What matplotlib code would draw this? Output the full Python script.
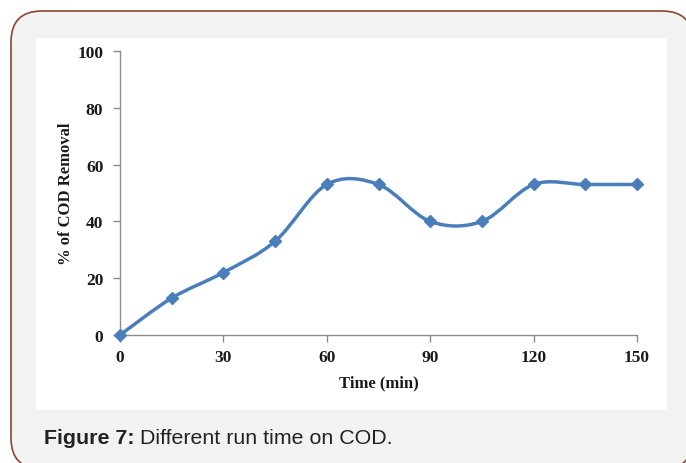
import matplotlib
matplotlib.use("Agg")
import numpy as np
import matplotlib.pyplot as plt
from matplotlib.path import Path
from matplotlib.patches import PathPatch, FancyBboxPatch, Rectangle

# Data
time_min = [0, 15, 30, 45, 60, 75, 90, 105, 120, 135, 150]
cod_removal = [0, 13, 22, 33, 53, 53, 40, 40, 53, 53, 53]
x_ticks = [0, 30, 60, 90, 120, 150]
y_ticks = [0, 20, 40, 60, 80, 100]

LINE = '#4a7ebb'
SERIF = 'Liberation Serif'


def smooth_path(xs, ys):
    # Excel-style smoothed line: cubic Bezier segments through each point
    pts = np.column_stack([xs, ys]).astype(float)
    n = len(pts)
    verts = [pts[0]]
    codes = [Path.MOVETO]
    for i in range(n - 1):
        p0 = pts[i - 1] if i > 0 else pts[i]
        p1 = pts[i]
        p2 = pts[i + 1]
        p3 = pts[i + 2] if i + 2 < n else pts[i + 1]
        c1 = p1 + (p2 - p0) / 6.0
        c2 = p2 - (p3 - p1) / 6.0
        verts += [c1, c2, p2]
        codes += [Path.CURVE4] * 3
    return Path(verts, codes)


def main():
    W, H = 686, 464
    fig = plt.figure(figsize=(W / 100, H / 100), dpi=100)
    fig.patch.set_facecolor('white')

    # rounded frame with light grey fill
    frame = FancyBboxPatch((11 / W, 1 - 470 / H), 682 / W, 458 / H,
                           boxstyle="round,pad=0,rounding_size=0.045",
                           transform=fig.transFigure, facecolor='#f2f2f2',
                           edgecolor='#8b4332', linewidth=1.2,
                           mutation_aspect=W / H, zorder=-5)
    fig.patches.append(frame)
    # white panel behind chart
    fig.patches.append(Rectangle((36 / W, 1 - 411 / H), 631 / W, 372 / H,
                                 transform=fig.transFigure, facecolor='white',
                                 edgecolor='none', zorder=-4))

    ax = fig.add_axes([120 / W, 1 - 336 / H, 517 / W, 284 / H])
    ax.set_facecolor('none')
    ax.add_patch(PathPatch(smooth_path(time_min, cod_removal), fill=False,
                           edgecolor=LINE, linewidth=2.5, capstyle='round',
                           joinstyle='round', clip_on=False))
    ax.plot(time_min, cod_removal, linestyle='none', marker='D', markersize=6.5,
            color=LINE, clip_on=False, zorder=3)

    ax.set_xlim(0, 150)
    ax.set_ylim(0, 100)
    ax.set_xticks(x_ticks)
    ax.set_yticks(y_ticks)
    for s in ['top', 'right']:
        ax.spines[s].set_visible(False)
    for s in ['left', 'bottom']:
        ax.spines[s].set_color('#8c8c8c')
        ax.spines[s].set_linewidth(1.0)
    ax.tick_params(direction='out', length=5, width=1.0, color='#8c8c8c',
                   labelsize=12.5, labelcolor='#1a1a1a')
    ax.tick_params(axis='y', pad=7)
    ax.tick_params(axis='x', pad=5)
    for lab in ax.get_xticklabels() + ax.get_yticklabels():
        lab.set_fontfamily(SERIF)
        lab.set_fontweight('bold')

    ax.set_xlabel("Time (min)", fontfamily=SERIF, fontweight='bold',
                  fontsize=12, color='#1a1a1a', labelpad=7)
    ax.set_ylabel("% of COD Removal", fontfamily=SERIF, fontweight='bold',
                  fontsize=12, color='#1a1a1a', labelpad=2.5)

    t1 = fig.text(44 / W, 1 - 439 / H, "Figure 7:", fontfamily='Liberation Sans',
                  fontweight='bold', fontsize=15.4, color='#222222', va='center')
    ax.annotate(" Different run time on COD.", xy=(1, 0.5), xycoords=t1,
                va='center', ha='left', fontfamily='Liberation Sans',
                fontsize=15.4, color='#222222', annotation_clip=False)

    fig.savefig("out.png", dpi=100)


if __name__ == "__main__":
    main()
